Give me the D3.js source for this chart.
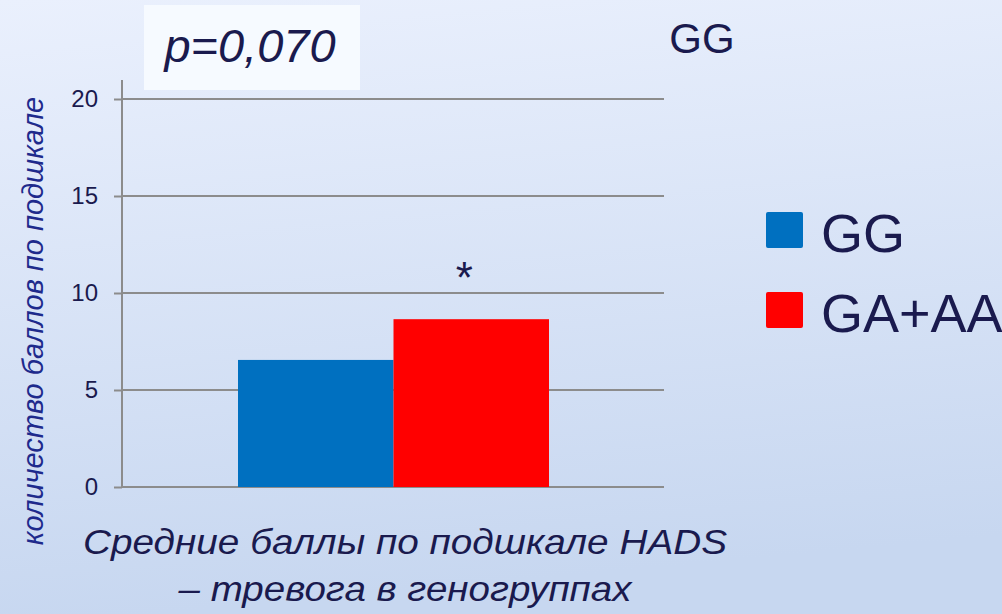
<!DOCTYPE html>
<html>
<head>
<meta charset="utf-8">
<script src="https://cdn.jsdelivr.net/npm/d3@7/dist/d3.min.js"></script>
<style>
  html, body { margin: 0; padding: 0; }
  body { width: 1002px; height: 614px; overflow: hidden; }
  svg { display: block; font-family: "Liberation Sans", Arial, sans-serif; }
</style>
</head>
<body>
<svg id="chart" width="1002" height="614"></svg>
<script>
  // данные
  const groups = ["GG", "GA+AA"];
  const values = [6.55, 8.65];
  const colors = ["#0070c0", "#ff0000"];
  const yTicks = [0, 5, 10, 15, 20];
  const pText = "p=0,070";
  const yLabel = "количество баллов по подшкале";
  const xLabelLines = ["Средние баллы по подшкале HADS", "– тревога в геногруппах"];
  const TXT = "#1a1a4e";

  const W = 1002, H = 614;
  const svg = d3.select("#chart");

  // фон-градиент
  const defs = svg.append("defs");
  const grad = defs.append("linearGradient").attr("id", "bg")
    .attr("x1", 0).attr("y1", 0).attr("x2", 0.15).attr("y2", 1);
  grad.append("stop").attr("offset", "0%").attr("stop-color", "#eaf0fd");
  grad.append("stop").attr("offset", "100%").attr("stop-color", "#c7d7f0");
  svg.append("rect").attr("width", W).attr("height", H).attr("fill", "url(#bg)");

  // область графика
  const plot = { left: 122, right: 664, top: 99, bottom: 487 };
  const y = d3.scaleLinear().domain([0, 20]).range([plot.bottom, plot.top]);
  const x = d3.scaleBand().domain(groups).range([238, 549]).padding(0);

  // сетка
  svg.append("g").selectAll("line").data(yTicks).join("line")
    .attr("x1", plot.left).attr("x2", plot.right)
    .attr("y1", (d) => y(d)).attr("y2", (d) => y(d))
    .attr("stroke", "#8c8c8c").attr("stroke-width", 2);

  // ось Y
  const yAxis = svg.append("g").attr("transform", `translate(${plot.left},0)`)
    .call(d3.axisLeft(y).tickValues(yTicks).tickSize(8).tickPadding(16));
  yAxis.select(".domain").remove();
  yAxis.selectAll(".tick line").attr("stroke", "#8c8c8c").attr("stroke-width", 2);
  yAxis.selectAll(".tick text").attr("fill", TXT).attr("font-size", 24)
    .attr("font-family", "'Liberation Sans', Arial, sans-serif");
  svg.append("line").attr("x1", plot.left).attr("x2", plot.left)
    .attr("y1", 80).attr("y2", plot.bottom + 1)
    .attr("stroke", "#8c8c8c").attr("stroke-width", 2);

  // столбцы
  svg.append("g").selectAll("rect").data(groups).join("rect")
    .attr("x", (d) => x(d)).attr("width", x.bandwidth())
    .attr("y", (d, i) => y(values[i])).attr("height", (d, i) => y(0) - y(values[i]))
    .attr("fill", (d, i) => colors[i]);

  // звёздочка
  svg.append("text").attr("x", x("GA+AA") + x.bandwidth() / 2 - 7).attr("y", y(values[1]) - 26)
    .attr("text-anchor", "middle").attr("font-size", 44).attr("fill", TXT).text("*");

  // плашка p
  svg.append("rect").attr("x", 144).attr("y", 5).attr("width", 216).attr("height", 85)
    .attr("fill", "#f6faff");
  svg.append("text").attr("x", 250).attr("y", 62).attr("text-anchor", "middle")
    .attr("font-size", 47).attr("font-style", "italic").attr("fill", TXT).text(pText);

  // заголовок группы
  svg.append("text").attr("x", 702).attr("y", 53).attr("text-anchor", "middle")
    .attr("font-size", 42).attr("fill", TXT).text("GG");

  // легенда
  const leg = svg.append("g").selectAll("g").data(groups).join("g")
    .attr("transform", (d, i) => `translate(766,${212 + i * 80})`);
  leg.append("rect").attr("width", 37).attr("height", 36).attr("rx", 2).attr("fill", (d, i) => colors[i]);
  leg.append("text").attr("x", 55).attr("y", 40).attr("font-size", 54).attr("fill", TXT).text((d) => d);

  // подпись оси Y
  svg.append("text").attr("transform", "translate(43,321) rotate(-90)")
    .attr("text-anchor", "middle").attr("font-size", 29).attr("font-style", "italic")
    .attr("fill", "#1e2a8c").text(yLabel);

  // подпись оси X
  const xlLen = [644, 453];
  svg.append("g").selectAll("text").data(xLabelLines).join("text")
    .attr("x", 405).attr("y", (d, i) => 554 + i * 47).attr("text-anchor", "middle")
    .attr("textLength", (d, i) => xlLen[i]).attr("lengthAdjust", "spacingAndGlyphs")
    .attr("font-size", 35).attr("font-style", "italic").attr("fill", TXT).text((d) => d);
</script>
</body>
</html>
